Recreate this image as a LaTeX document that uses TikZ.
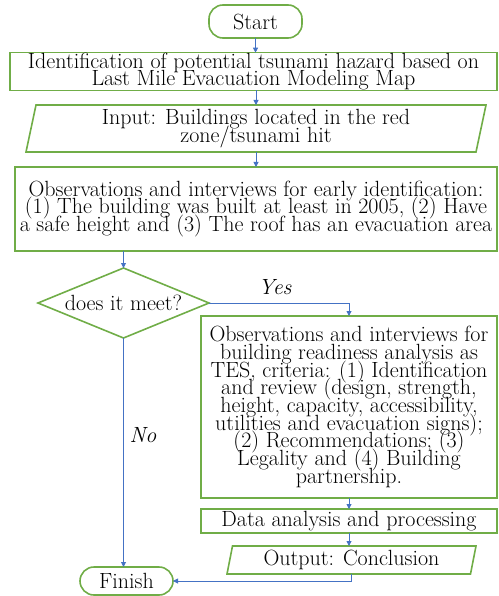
\documentclass[tikz,border=0pt]{standalone}
\usetikzlibrary{arrows.meta}
\definecolor{grn}{HTML}{70AD47}
\definecolor{blu}{HTML}{4472C4}
\newcommand\mytightlines{\lineskiplimit=-50pt\relax\lineskip=0pt\relax}
\begin{document}
\begin{tikzpicture}[x=1pt,y=-1pt,
  every node/.style={font=\fontsize{22}{17.7}\selectfont\mytightlines, inner sep=0pt, outer sep=0pt, align=center},
  term/.style={draw=grn, line width=1.6pt, rounded corners=14pt},
  procbox/.style={draw=grn, line width=1.6pt},
  shapeline/.style={draw=grn, line width=1.6pt},
  flow/.style={draw=blu, line width=0.9pt, -{Triangle[length=5pt,width=5pt]}},
  lbl/.style={font=\fontsize{22}{22}\selectfont\itshape}
]
\useasboundingbox (0,0) rectangle (498,596);

\node[term, minimum width=93pt, minimum height=33pt] (start) at (255.5,21.5) {Start};

\node[procbox, minimum width=487pt, minimum height=37pt] (ident) at (253.5,71.5)
  {Identification of potential tsunami hazard based on\\Last Mile Evacuation Modeling Map};

\node[minimum width=460pt, minimum height=47pt] (input) at (256,128.5)
  {Input: Buildings located in the red\\zone/tsunami hit};
\draw[shapeline] ([xshift=10pt]input.north west) -- (input.north east)
  -- ([xshift=-10pt]input.south east) -- (input.south west) -- cycle;

\node[procbox, minimum width=482pt, minimum height=84pt] (obs) at (256,209)
  {Observations and interviews for early identification:\\(1) The building was built at least in 2005, (2) Have\\a safe height and (3) The roof has an evacuation area};

\node[minimum width=171pt, minimum height=70pt] (dec) at (123.5,303) {does it meet?};
\draw[shapeline] (dec.north) -- (dec.east) -- (dec.south) -- (dec.west) -- cycle;

\node[procbox, minimum width=296pt, minimum height=182pt] (tes) at (349,407)
  {Observations and interviews for\\building readiness analysis as\\TES, criteria: (1) Identification\\and review (design, strength,\\height, capacity, accessibility,\\utilities and evacuation signs);\\(2) Recommendations; (3)\\Legality and (4) Building\\partnership.};

\node[procbox, minimum width=296pt, minimum height=24pt] (data) at (349,521)
  {Data analysis and processing};

\node[minimum width=249pt, minimum height=28pt] (out) at (351.5,560) {Output: Conclusion};
\draw[shapeline] ([xshift=5.5pt]out.north west) -- (out.north east)
  -- ([xshift=-5.5pt]out.south east) -- (out.south west) -- cycle;

\node[term, minimum width=93pt, minimum height=28pt] (finish) at (126.5,581) {Finish};

\draw[flow] (start.south) -- (start.south |- ident.north);
\draw[flow] (input.north |- ident.south) -- (input.north);
\draw[flow] (input.south) -- (obs.north);
\draw[flow] (dec.north |- obs.south) -- (dec.north);
\draw[flow] (dec.east) -| (tes.north);
\draw[flow] (dec.south) -- (dec.south |- finish.north);
\draw[flow] (tes.south) -- (data.north);
\draw[flow] (data.south) -- (data.south |- out.north);
\draw[flow] (out.south) |- (finish.east);

\node[lbl] (yes) at (275,287) {Yes};
\node[lbl] (no) at (143,435) {No};
\end{tikzpicture}
\end{document}
